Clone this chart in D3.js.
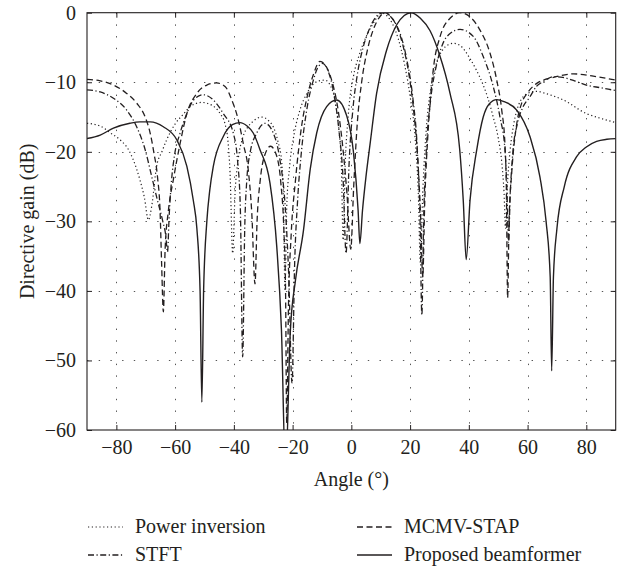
<!DOCTYPE html>
<html>
<head>
<meta charset="utf-8">
<script src="https://cdn.jsdelivr.net/npm/d3@7"></script>
<style>
  html, body { margin: 0; padding: 0; background: #fff; }
  svg { display: block; }
</style>
</head>
<body>
<svg id="chart" width="619" height="569" font-family="Liberation Serif, DejaVu Serif, serif"></svg>
<script>
// ---------- data ----------
const xTicks = [-80, -60, -40, -20, 0, 20, 40, 60, 80];
const yTicks = [0, -10, -20, -30, -40, -50, -60];
const seriesNames = ["Power inversion", "MCMV-STAP", "STFT", "Proposed beamformer"];

const powerInversion = [
  [-90,-15.9],[-85.5,-16.3],[-82,-17.3],[-78.7,-18.3],[-76,-19.6],[-74.2,-21.2],[-72,-24],[-70.5,-26.5],
  [-69.1,-29.8],[-68,-27.9],[-66.3,-22.1],[-64.5,-20],[-62.9,-18.3],[-60,-16],[-57,-14.5],[-54.9,-13.5],
  [-51,-12.9],[-47.5,-13.3],[-44.7,-14.5],[-43,-16],[-42,-18.5],[-41.3,-23],[-40.4,-34.6],[-39.6,-26],
  [-38.5,-21],[-37,-18],[-35,-16.3],[-33.4,-15.6],[-30.5,-15],[-28,-15.6],[-26.6,-16.4],[-25,-18.5],
  [-23.7,-21.5],[-23.1,-27],[-22.6,-40],[-22,-28],[-21,-22],[-19.5,-17.5],[-17.5,-14],[-15,-11.5],
  [-13,-10.3],[-11,-9.8],[-9,-9.7],[-7,-10.6],[-5.5,-12.8],[-4.2,-17],[-3.4,-22],[-2.8,-32.7],
  [-2.1,-22],[-1,-14.5],[0.7,-9.2],[2.5,-6.3],[4.1,-4.4],[6,-2.6],[7.5,-1.5],[9,-0.5],[10,0],
  [12,-0.4],[14,-1.6],[16,-3.8],[18,-7.2],[20,-12],[21.7,-18],[22.8,-26],[23.5,-36],[24.3,-26],
  [25.3,-18],[27,-11],[29,-7.2],[31,-5.4],[33,-4.6],[34.7,-4.4],[37,-4.7],[40.4,-6.6],[42.5,-8.2],
  [44.8,-10.3],[46.5,-12.3],[48.3,-15],[50,-18],[51.2,-21.5],[52,-26],[52.5,-31],[53.1,-25],[54,-20],
  [55.3,-16],[57,-13.2],[60,-11.6],[63,-11.3],[66,-11.6],[72.2,-12.55],[80,-14.5],[85,-15.2],[90,-15.8]
];

const mcmvStap = [
  [-90,-9.6],[-85.5,-9.8],[-81,-10.4],[-76.5,-11.6],[-73.1,-13],[-70.2,-15],[-68.5,-17.3],[-67.2,-20.2],
  [-66,-23.6],[-65.1,-28.8],[-64.6,-36],[-64,-43],[-63.4,-34],[-62.3,-28.5],[-60.6,-24],[-58.3,-18.8],
  [-56,-14.5],[-52.6,-11.6],[-49.2,-10.4],[-45.9,-10.1],[-43,-10.6],[-40.7,-12.55],[-38.5,-15.4],
  [-36.8,-18.8],[-35.1,-22.6],[-33.9,-28.8],[-32.8,-39],[-32.1,-30],[-31,-24],[-29.5,-20.5],
  [-27.5,-19.2],[-25.5,-20.5],[-24,-24.5],[-23,-31],[-22.4,-40],[-22,-59],[-21.4,-42],[-20.5,-32],
  [-19,-24],[-17,-16.5],[-15,-12],[-13,-9],[-10.7,-7],[-8.5,-7.8],[-6.5,-10],[-4.5,-14],[-3,-19],
  [-1.5,-26],[-0.2,-34],[0.8,-25],[2,-16],[3.5,-10],[5.5,-5.3],[7.5,-2.4],[9.5,-0.7],[11.5,0],
  [13.5,-0.6],[15.5,-2],[17.5,-4.6],[19.5,-8.6],[21.2,-14],[22.6,-21],[23.6,-29.5],[24.3,-38],
  [25,-27],[26,-18],[27,-12],[28,-7.8],[30.2,-3.45],[33.6,-0.8],[37,0],[40.4,-0.6],[43.8,-2.5],
  [47.2,-5.8],[49.5,-9.7],[51.2,-14],[52.3,-19],[52.8,-26],[53.2,-41],[53.7,-30],[54.6,-23],
  [56.3,-16],[58,-13],[60,-11.5],[63,-10.2],[68.8,-9.3],[75.7,-8.8],[83.5,-9.2],[90,-9.7]
];

const stft = [
  [-90,-11.1],[-85.5,-11.4],[-81,-12.3],[-76.5,-14],[-73.1,-16.4],[-70.2,-19.7],[-68,-23.5],[-66,-27],
  [-64.2,-30],[-63.2,-32],[-62.6,-34.4],[-62,-29],[-61.2,-24],[-60.2,-20.5],[-58.3,-17.3],[-56,-14.5],
  [-53.8,-12.6],[-50.4,-11.8],[-47,-12.55],[-43.6,-14.5],[-40.2,-17.3],[-38.8,-21],[-37.8,-28],
  [-37,-49.5],[-36.3,-31],[-35.6,-24.1],[-34.5,-20.2],[-32.2,-17.3],[-29.4,-15.9],[-26.6,-17.3],
  [-24.3,-21.2],[-22.5,-28],[-21.3,-38],[-20.2,-53.3],[-19.3,-36],[-18.3,-27],[-17,-20],[-15,-13.5],
  [-13,-9.8],[-11.3,-7.8],[-9.8,-7.3],[-8,-8.3],[-6,-11.5],[-4.2,-17],[-2.8,-24],[-1.8,-34.6],
  [-0.8,-22],[0.5,-14],[2,-9],[4,-5],[6,-2.5],[8,-0.8],[10,-0.1],[11.5,0],[13,-0.4],[15,-1.5],
  [17,-3.5],[19,-7],[21,-12.5],[22.5,-20],[23.4,-30],[24,-43.5],[24.6,-30],[25.5,-20],[27,-12.5],
  [29,-7.5],[31,-4.6],[33.6,-3],[37,-2.4],[41.5,-3.4],[44.9,-6.3],[48.3,-10.6],[50.6,-15],[52.3,-19.7],
  [53,-26],[53.5,-33],[54.1,-26],[55,-20],[56.5,-16],[58.5,-13.5],[60.8,-12.1],[63,-10.6],[65.4,-9.9],
  [68.8,-9.2],[72,-9.3],[76,-9.8],[80,-10.4],[85,-10.8],[90,-11.2]
];

const proposed = [
  [-90,-18.1],[-85.5,-17.6],[-81,-16.6],[-75.4,-15.9],[-72,-15.7],[-68.5,-15.7],[-64,-16.4],[-59.4,-18.3],
  [-56,-22.1],[-53.8,-27],[-52.6,-31],[-51.5,-40],[-50.9,-56],[-50.3,-40],[-49.2,-30],[-48.2,-25.5],
  [-47,-22.1],[-43.6,-17.8],[-40.5,-16.1],[-37.9,-15.8],[-35.5,-16.3],[-33.4,-17.3],[-31.1,-19.7],
  [-27.7,-24.5],[-25.4,-33.6],[-23.8,-45.6],[-22.4,-66],[-20.8,-46],[-19,-38.4],[-16.3,-31.3],
  [-14,-22.5],[-11.8,-17.3],[-8.4,-13.5],[-5,-12.55],[-1.6,-14.8],[0.7,-20],[2.3,-28.4],[2.9,-33.2],
  [3.8,-28.4],[5,-23.5],[6.4,-18.8],[8.6,-11.6],[12,-5.4],[15.5,-1.7],[18,-0.4],[20.3,0],[23.5,-0.8],
  [26.8,-2.6],[30,-6],[33.6,-11.6],[36.9,-19.7],[38.1,-27],[39.1,-35.5],[40.4,-27],[42.7,-19.7],
  [44.9,-15],[47,-13.1],[49.5,-12.5],[52,-12.8],[56.3,-14],[60.8,-17.8],[64.2,-23.6],[66.3,-30],
  [67.7,-38],[68.2,-51.5],[68.8,-38],[70,-31],[72.5,-25],[76.7,-20.7],[80,-19.3],[83.5,-18.5],
  [87,-18.2],[90,-18.1]
];

// ---------- layout ----------
const FONT = "Liberation Serif, DejaVu Serif, serif";
const svg = d3.select("#chart");
const L = 87, R = 615.7, T = 12.7, B = 430;
const x = d3.scaleLinear().domain([-90, 90]).range([L, R]);
const y = d3.scaleLinear().domain([-60, 0]).range([B, T]);
const ink = "#231f20";
const fontSize = 20;

svg.append("defs").append("clipPath").attr("id", "plotclip")
  .append("rect").attr("x", L).attr("y", T).attr("width", R - L).attr("height", B - T);

// grid
const grid = svg.append("g").attr("stroke", "#555").attr("stroke-width", 1)
  .attr("stroke-dasharray", "1.4,10.3");
grid.selectAll("line.gx").data(xTicks).enter().append("line")
  .attr("x1", d => Math.round(x(d)) + 0.5).attr("x2", d => Math.round(x(d)) + 0.5)
  .attr("y1", T).attr("y2", B);
grid.selectAll("line.gy").data(yTicks.filter(d => d !== 0 && d !== -60)).enter().append("line")
  .attr("x1", L).attr("x2", R)
  .attr("y1", d => Math.round(y(d)) + 0.5).attr("y2", d => Math.round(y(d)) + 0.5);

// curves
const line = d3.line().x(d => x(d[0])).y(d => y(d[1])).curve(d3.curveMonotoneX);
const styles = [
  { data: powerInversion, dash: "1.2,2.6", w: 1.2 },
  { data: mcmvStap, dash: "6,3.5", w: 1.3 },
  { data: stft, dash: "6,2.5,1.2,2.5", w: 1.3 },
  { data: proposed, dash: null, w: 1.4 }
];
const curves = svg.append("g").attr("clip-path", "url(#plotclip)");
styles.forEach(s => {
  curves.append("path").datum(s.data)
    .attr("d", line).attr("fill", "none").attr("stroke", ink)
    .attr("stroke-width", s.w).attr("stroke-dasharray", s.dash)
    .attr("stroke-linejoin", "round");
});

// axes (inward ticks on all sides)
const tickLen = 5;
const axB = d3.axisBottom(x).tickValues(xTicks).tickSizeInner(-tickLen).tickSizeOuter(0).tickPadding(9.5);
const axT = d3.axisTop(x).tickValues(xTicks).tickSizeInner(-tickLen).tickSizeOuter(0).tickFormat("");
const axL = d3.axisLeft(y).tickValues(yTicks).tickSizeInner(-tickLen).tickSizeOuter(0).tickPadding(11);
const axRt = d3.axisRight(y).tickValues(yTicks).tickSizeInner(-tickLen).tickSizeOuter(0).tickFormat("");

function styleAxis(g) {
  g.attr("font-family", FONT).attr("font-size", fontSize);
  g.select(".domain").remove();
  g.selectAll(".tick line").attr("stroke", ink).attr("stroke-width", 1);
  g.selectAll(".tick text").attr("fill", ink);
}
svg.append("g").attr("transform", `translate(0,${B})`).call(axB).call(styleAxis)
  .selectAll(".tick text").attr("dy", "0.71em");
svg.append("g").attr("transform", `translate(0,${T})`).call(axT).call(styleAxis);
svg.append("g").attr("transform", `translate(${L},0)`).call(axL).call(styleAxis);
svg.append("g").attr("transform", `translate(${R},0)`).call(axRt).call(styleAxis);

// frame
svg.append("rect").attr("x", L).attr("y", T).attr("width", R - L).attr("height", B - T)
  .attr("fill", "none").attr("stroke", ink).attr("stroke-width", 1.1);

// axis titles
svg.append("text").attr("x", (L + R) / 2).attr("y", 486).attr("text-anchor", "middle")
  .attr("font-family", FONT).attr("font-size", fontSize).attr("fill", ink).text("Angle (°)");
svg.append("text").attr("transform", `translate(34,${(T + B) / 2}) rotate(-90)`)
  .attr("text-anchor", "middle").attr("font-family", FONT).attr("font-size", fontSize)
  .attr("fill", ink).text("Directive gain (dB)");

// legend
const legendItems = [
  { name: seriesNames[0], st: styles[0], lx: 88, ly: 533 },
  { name: seriesNames[1], st: styles[1], lx: 357, ly: 533 },
  { name: seriesNames[2], st: styles[2], lx: 88, ly: 561 },
  { name: seriesNames[3], st: styles[3], lx: 357, ly: 561 }
];
const lg = svg.append("g");
legendItems.forEach(it => {
  lg.append("line").attr("x1", it.lx).attr("x2", it.lx + 35)
    .attr("y1", it.ly - 6).attr("y2", it.ly - 6)
    .attr("stroke", ink).attr("stroke-width", it.st.w).attr("stroke-dasharray", it.st.dash);
  lg.append("text").attr("x", it.lx + 47).attr("y", it.ly)
    .attr("font-family", FONT).attr("font-size", fontSize).attr("fill", ink).text(it.name);
});
</script>
</body>
</html>
